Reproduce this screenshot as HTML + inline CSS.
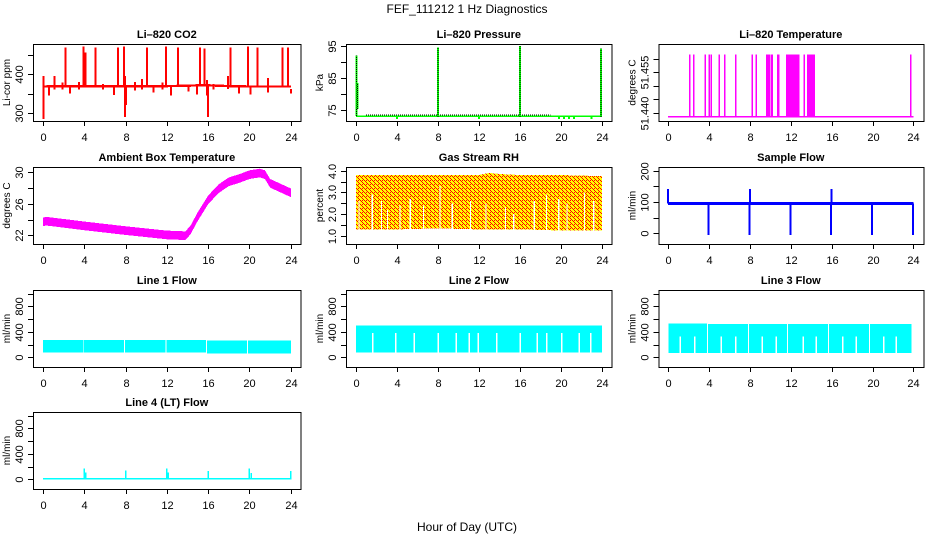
<!DOCTYPE html>
<html><head><meta charset="utf-8"><style>
html,body{margin:0;padding:0;background:#fff;}
svg{display:block;font-family:"Liberation Sans",sans-serif;}
</style></head><body>
<svg id="chart" width="936" height="540" viewBox="0 0 936 540" xmlns="http://www.w3.org/2000/svg" shape-rendering="crispEdges">
<defs>
<pattern id="rhpat" width="4" height="4" patternUnits="userSpaceOnUse">
<rect width="4" height="4" fill="#ffff00"/>
<rect x="0" y="0" width="1" height="1" fill="#ff0000"/><rect x="2" y="2" width="1" height="1" fill="#ff0000"/>
<rect x="2" y="0" width="1" height="1" fill="#ff0000"/><rect x="1" y="1" width="1" height="1" fill="#ff0000"/>
<rect x="3" y="3" width="1" height="1" fill="#ff0000"/>
</pattern>
</defs>
<text x="467" y="13" text-anchor="middle" font-size="12">FEF_111212  1 Hz Diagnostics</text>
<text x="467" y="531" text-anchor="middle" font-size="12">Hour of Day (UTC)</text>
</svg>
<script>
// ---------- data ----------
const xTicks = [0,4,8,12,16,20,24];
// CO2
const co2Hours = [0,2,4,6,8,10,12,14,15,16,18,20,22,24];
const co2Base  = [368,369,369,369,369,369,369,370,371,371,369,368,368,368];
const co2Spikes = [[0.05,285,395],[2.17,368,468],[3.95,368,470],[4.1,368,455],[5.1,368,468],[7.27,368,468],[7.85,368,470],[7.95,290,395],[8.05,320,370],[10.1,368,468],[11.93,368,470],[13.1,368,468],[15.2,368,468],[15.65,368,465],[15.9,345,385],[16.0,290,370],[18.15,368,468],[19.87,368,470],[20.76,368,468],[23.2,368,468],[23.75,368,468],[1.1,360,395],[1.9,360,378],[3.5,360,380],[5.8,360,375],[8.9,358,380],[9.6,360,387],[10.7,352,370],[11.6,360,378],[14.1,355,372],[16.5,360,375],[17.9,362,395],[19.0,350,370],[21.8,352,390],[0.6,345,368],[2.6,350,368],[6.9,346,368],[12.4,345,368],[14.9,348,368],[20.1,348,368],[24.0,350,362]];
// Pressure
const presBase = 73.2;
const presDotBase = 73.5;
const presSpikes = [[0.05,73.2,92],[0.15,75.5,83.5],[8.0,73,94.5],[16.0,73,95],[23.9,73,94.2]];
const presDips = [4,12,19.8,20.3,20.8,21.3,23];
// Li-820 temperature
const tempBase = 51.4385;
const tempTop = 51.4615;
const tempSpikeHours = [2.14,2.53,3.63,4.02,4.22,5.0,5.55,6.62,8.24,8.6,9.67,9.72,9.77,9.82,9.87,9.92,10.15,10.2,10.7,10.8,11.6,11.65,11.7,11.75,11.8,11.97,12.02,12.07,12.12,12.17,12.2,12.33,12.38,12.43,12.48,12.53,12.58,12.63,12.68,12.73,12.8,13.3,13.65,13.7,13.75,13.8,13.85,13.9,13.95,14.0,14.05,14.1,14.15,14.2,14.27,23.74];
// Ambient box temperature
const ambHours = [0,0.3,4,8,12,13.8,14.3,15,16,17,18,19,20,21,21.5,22,23,24];
const ambVals  = [23.7,23.8,23.2,22.6,22.05,21.95,22.7,24.4,26.5,27.9,28.8,29.2,29.7,29.9,29.7,28.6,28.0,27.4];
// Gas stream RH
const rhHours = [0,4,8,12,13,14,16,20,24];
const rhTop   = [3.8,3.8,3.8,3.8,3.9,3.85,3.8,3.8,3.75];
const rhBot   = [1.3,1.3,1.35,1.3,1.3,1.3,1.3,1.25,1.25];
const rhGaps  = [[0.3,2.6],[1.6,2.9],[2.5,2.6],[3.1,2.2],[4.3,2.4],[5.3,2.7],[6.6,2.4],[8.2,3.3],[9.4,2.5],[11.2,2.6],[12.7,2.5],[14.6,2.3],[15.4,2.0],[17.4,2.6],[18.6,2.9],[19.8,2.7],[20.6,2.5],[22.3,3.0],[23.2,2.6]];
// Sample flow
const sfBase = 95;
const sfDrops = [4,8,12,16,20,24];
const sfPeaks = [[0,142],[8,142],[16,142]];
// Line flows
const l1Band = [[0,3.9,80,270],[3.95,7.85,80,270],[7.95,11.85,80,275],[11.95,15.8,80,270],[15.9,19.75,65,262],[19.85,24,60,262]];
const l2Band = [[0,24,80,500]];
const l2Gaps = [1.66,3.88,5.7,8.05,9.8,11.08,11.93,13.77,16.06,17.7,18.6,20.1,21.8,22.9];
const l3Band = [[0.05,3.8,70,530],[3.9,7.8,70,525],[7.9,11.65,70,520],[11.75,15.65,70,525],[15.75,19.65,70,525],[19.75,23.8,70,520]];
const l3Gaps = [1.2,2.6,5.2,6.6,9.2,10.6,13.2,14.5,17.1,18.4,21.1,22.3];
const l4Spikes = [[4,170],[4.15,110],[8,140],[12,170],[12.15,110],[16,130],[20,170],[20.15,100],[24,130]];

// ---------- helpers ----------
const NS = 'http://www.w3.org/2000/svg';
const svg = document.getElementById('chart');
function mk(tag, attrs, parent){
  const e = document.createElementNS(NS, tag);
  for (const k in attrs) e.setAttribute(k, attrs[k]);
  (parent||svg).appendChild(e);
  return e;
}
function panel(key, title, ylab, L, T, R, B, ymin, ymax, yTicks, yLabels){
  const g = mk('g', {});
  
  
  const xmin = -0.96, xmax = 24.96;
  const sx = h => L + (h - xmin) / (xmax - xmin) * (R - L);
  const sy = v => B - (v - ymin) / (ymax - ymin) * (B - T);
  const marks = mk('g', {}, g);
  
  
  const frame = mk('rect', {x:L+0.5, y:T+0.5, width:R-L, height:B-T, fill:'none', stroke:'#000', 'stroke-width':1}, g);
  
  
  const t = mk('text', {x:(L+R)/2, y:T-6, 'text-anchor':'middle', 'font-size':11, 'font-weight':'bold'}, g);
  t.textContent = title;
  
  
  const yl = mk('text', {x:0, y:0, 'text-anchor':'middle', 'font-size':10, transform:`translate(${L-23},${(T+B)/2}) rotate(-90)`}, g);
  yl.textContent = ylab;
  
  
  xTicks.forEach(h => {
    const x = Math.round(sx(h)) + 0.5;
    mk('line', {x1:x, x2:x, y1:B, y2:B+5, stroke:'#000'}, g);
    const lab = mk('text', {x:x, y:B+20, 'text-anchor':'middle', 'font-size':11}, g);
    lab.textContent = h;
    
    
  });
  yTicks.forEach((v, i) => {
    const y = Math.round(sy(v)) + 0.5;
    mk('line', {x1:L-5, x2:L, y1:y, y2:y, stroke:'#000'}, g);
    if (yLabels[i] !== '') {
      const lab = mk('text', {x:0, y:0, 'text-anchor':'middle', 'font-size':11, transform:`translate(${L-10},${y}) rotate(-90)`}, g);
      lab.textContent = yLabels[i];
      
      
    }
  });
  return {sx, sy, g: marks};
}
function vline(p, h, lo, hi, color, w, extra){
  const x = p.sx(h);
  const a = {x1:x, x2:x, y1:p.sy(lo), y2:p.sy(hi), stroke:color, 'stroke-width':w||1.5};
  if (extra) Object.assign(a, extra);
  return mk('line', a, p.g);
}
function band(p, hoursArr, lowArr, highArr, fill){
  let pts = hoursArr.map((h,i)=>p.sx(h)+','+p.sy(highArr[i]));
  pts = pts.concat(hoursArr.slice().reverse().map((h,j)=>{const i=hoursArr.length-1-j; return p.sx(h)+','+p.sy(lowArr[i]);}));
  return mk('polygon', {points: pts.join(' '), fill: fill}, p.g);
}

const C1=[33,300.7], C2=[346,611.7], C3=[658.3,923.3];
const R1=[44,121], R2=[167,244], R3=[290,367], R4=[412,489];

// ---- CO2 ----
const pCO2 = panel('co2','Li\u2013820 CO2','Li-cor ppm',C1[0],R1[0],C1[1],R1[1],279.5,477,[300,350,400,450],['300','','400','']);
const cb = band(pCO2, co2Hours, co2Base.map(v=>v-3), co2Base.map(v=>v+3), '#ff0000');


co2Spikes.forEach(s=>{
  const l = vline(pCO2, s[0], s[1], s[2], '#ff0000', 2);
  
  
});

// ---- Pressure ----
const pP = panel('pressure','Li\u2013820 Pressure','kPa',C2[0],R1[0],C2[1],R1[1],71.7,95.6,[75,80,85,90,95],['75','','85','','95']);
const pl = mk('line',{x1:pP.sx(0),x2:pP.sx(24),y1:pP.sy(presBase),y2:pP.sy(presBase),stroke:'#00ff00','stroke-width':1.5},pP.g);


const pd = mk('line',{x1:pP.sx(1),x2:pP.sx(19),y1:pP.sy(presDotBase),y2:pP.sy(presDotBase),stroke:'#000','stroke-width':1,'stroke-dasharray':'1,1'},pP.g);


presSpikes.forEach(s=>{
  const l = vline(pP, s[0], s[1], s[2], '#00ff00', 2);
  
  
  const d = vline(pP, s[0], s[1], s[2], '#000', 1, {'stroke-dasharray':'1,1'});
  
  
});
presDips.forEach(h=>{
  const l = vline(pP, h, presBase-0.9, presBase, '#00ff00', 2);
  
  
});

// ---- Li-820 Temperature ----
const pT = panel('li820-temp','Li\u2013820 Temperature','degrees C',C3[0],R1[0],C3[1],R1[1],51.437,51.4654,[51.440,51.445,51.450,51.455,51.460],['51.440','','','51.455','']);
const tl = mk('line',{x1:pT.sx(0),x2:pT.sx(24),y1:pT.sy(tempBase),y2:pT.sy(tempBase),stroke:'#ff00ff','stroke-width':1.5},pT.g);


tempSpikeHours.forEach(h=>{
  const l = vline(pT, h, tempBase, tempTop, '#ff00ff', 1.5);
  
  
});

// ---- Ambient ----
const pA = panel('ambient','Ambient Box Temperature','degrees C',C1[0],R2[0],C1[1],R2[1],20.9,30.67,[22,24,26,28,30],['22','','26','','30']);
const ab = band(pA, ambHours, ambVals.map(v=>v-0.55), ambVals.map(v=>v+0.55), '#ff00ff');



// ---- RH ----
const pR = panel('rh','Gas Stream RH','percent',C2[0],R2[0],C2[1],R2[1],0.63,4.17,[1,1.5,2,2.5,3,3.5,4],['1.0','','2.0','','3.0','','4.0']);
const rb = band(pR, rhHours, rhBot, rhTop, 'url(#rhpat)');


rhGaps.forEach(gp=>{
  const l = vline(pR, gp[0], 1.2, gp[1], '#ffffff', 1.2);
  
  
});

// ---- Sample flow ----
const pS = panel('sample-flow','Sample Flow','ml/min',C3[0],R2[0],C3[1],R2[1],-34,211.8,[0,50,100,150,200],['0','','100','','200']);
const sb = mk('rect',{x:pS.sx(0),y:pS.sy(sfBase+5),width:pS.sx(24)-pS.sx(0),height:pS.sy(sfBase-5)-pS.sy(sfBase+5),fill:'#0000ff'},pS.g);


sfDrops.forEach(h=>{
  const l = vline(pS, h-0.05, -5, sfBase, '#0000ff', 2);
  
  
});
sfPeaks.forEach(s=>{
  const l = vline(pS, s[0], sfBase, s[1], '#0000ff', 2);
  
  
});

// ---- Line flows ----
function flowPanel(key, title, col, row){
  return panel(key, title, 'ml/min', col[0], row[0], col[1], row[1], -150, 1055, [0,200,400,600,800,1000], ['0','','400','','800','']);
}
function drawBands(p, bands, gaps, gapTop, key){
  bands.forEach(b=>{
    const r = mk('rect',{x:p.sx(b[0]),y:p.sy(b[3]),width:p.sx(b[1])-p.sx(b[0]),height:p.sy(b[2])-p.sy(b[3]),fill:'#00ffff'},p.g);
    
    
  });
  gaps.forEach(h=>{
    const l = vline(p, h, 70, gapTop, '#ffffff', 1.5);
    
    
  });
}
const pL1 = flowPanel('line1-flow','Line 1 Flow',C1,R3);
drawBands(pL1, l1Band, [], 0, 'line1-flow');
const pL2 = flowPanel('line2-flow','Line 2 Flow',C2,R3);
drawBands(pL2, l2Band, l2Gaps, 380, 'line2-flow');
const pL3 = flowPanel('line3-flow','Line 3 Flow',C3,R3);
drawBands(pL3, l3Band, l3Gaps, 330, 'line3-flow');
const pL4 = flowPanel('line4-flow','Line 4 (LT) Flow',C1,R4);
const l4b = mk('rect',{x:pL4.sx(0),y:pL4.sy(20),width:pL4.sx(24)-pL4.sx(0),height:pL4.sy(-5)-pL4.sy(20),fill:'#00ffff'},pL4.g);


l4Spikes.forEach(s=>{
  const l = vline(pL4, s[0], 0, s[1], '#00ffff', 1.5);
  
  
});
</script>
</body></html>
